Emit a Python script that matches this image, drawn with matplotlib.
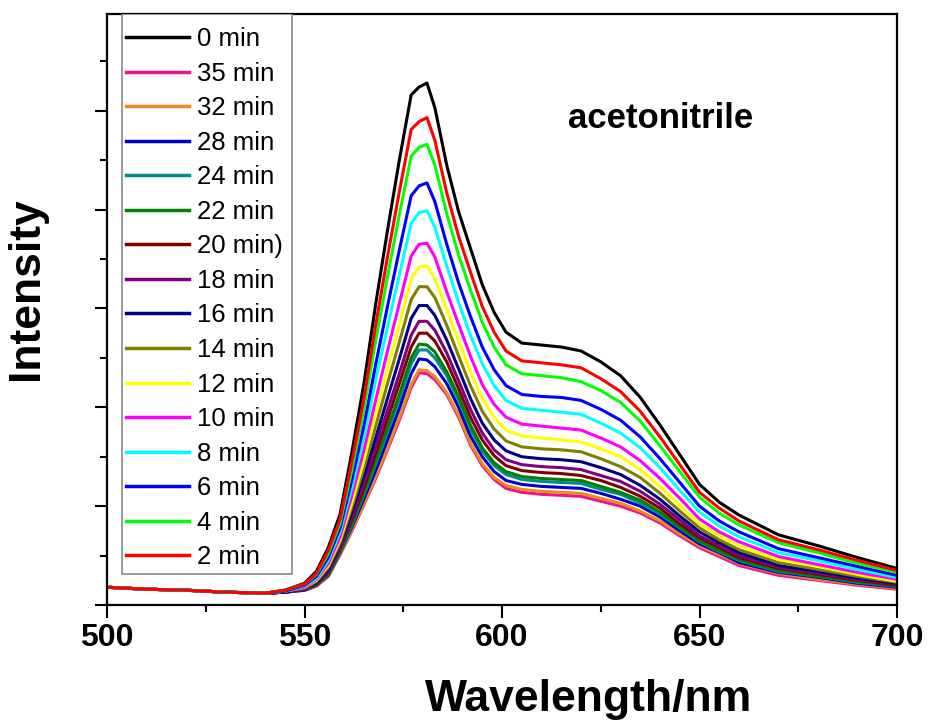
import numpy as np
import matplotlib
matplotlib.use('Agg')
import matplotlib.pyplot as plt
from matplotlib.patches import Rectangle
from matplotlib.ticker import MultipleLocator

plt.rcParams['font.family'] = ['Liberation Sans', 'DejaVu Sans']

# wavelength grid (nm)
wl = [500, 510, 520, 530, 540, 545, 550, 553, 556, 559, 562, 565, 568, 571,
      574, 577, 579, 581, 583, 586, 589, 592, 595, 598, 601, 605, 610, 615,
      620, 625, 630, 635, 640, 645, 650, 655, 660, 670, 680, 690, 700]

base = [18, 16, 15, 13, 12]  # 500-540 nm, all curves overlap

# intensity from 545 nm on (arbitrary units)
i_0 = base + [15, 22, 34, 58, 92, 155, 223, 304, 379, 450, 516, 524, 528, 503, 445, 398,
              361, 324, 296, 276, 265, 263, 261, 257, 246, 232, 210, 182, 152, 122, 104,
              91, 71, 60, 48, 37]
i_35 = base + [13, 15, 19, 29, 51, 75, 101, 128, 157, 187, 220, 235, 234, 228, 213, 190,
               162, 141, 127, 118, 114, 112, 111, 110, 105, 100, 93, 83, 70, 58, 49,
               40, 30, 25, 20, 16]
i_32 = base + [13, 15, 19, 29, 51, 76, 102, 130, 159, 190, 223, 238, 237, 231, 215, 192,
               164, 143, 129, 121, 117, 115, 114, 113, 108, 103, 95, 85, 72, 60, 51,
               42, 32, 26, 21, 17]
i_28 = base + [13, 15, 20, 30, 53, 79, 107, 136, 167, 199, 234, 249, 248, 241, 224, 200,
               171, 150, 135, 126, 122, 120, 119, 118, 113, 107, 100, 89, 75, 62, 53,
               43, 33, 28, 22, 18]
i_24 = base + [13, 16, 20, 31, 54, 81, 111, 142, 175, 208, 244, 258, 258, 250, 232, 207,
               178, 156, 141, 132, 127, 125, 124, 123, 117, 112, 103, 92, 78, 64, 54,
               45, 34, 29, 23, 19]
i_22 = base + [13, 16, 20, 32, 55, 83, 113, 146, 179, 213, 250, 264, 263, 256, 236, 211,
               182, 159, 144, 135, 130, 128, 127, 126, 120, 114, 106, 94, 79, 65, 55,
               46, 35, 29, 24, 19]
i_20 = base + [13, 16, 21, 33, 57, 86, 118, 153, 188, 224, 261, 275, 275, 267, 246, 219,
               190, 167, 151, 141, 136, 134, 133, 131, 126, 119, 110, 98, 82, 68, 58,
               48, 37, 31, 25, 20]
i_18 = base + [13, 16, 22, 34, 58, 89, 123, 160, 197, 234, 273, 287, 287, 278, 255, 227,
               198, 174, 157, 147, 142, 140, 139, 137, 131, 125, 115, 102, 86, 70, 60,
               50, 38, 32, 26, 21]
i_16 = base + [13, 17, 23, 36, 61, 94, 130, 169, 209, 249, 290, 303, 303, 293, 268, 239,
               209, 184, 167, 156, 150, 148, 147, 145, 139, 132, 121, 107, 90, 74, 63,
               53, 40, 34, 27, 22]
i_14 = base + [14, 17, 24, 38, 63, 99, 138, 181, 224, 266, 309, 322, 322, 311, 283, 252,
               222, 196, 178, 166, 160, 158, 157, 155, 148, 140, 129, 113, 95, 78, 66,
               56, 43, 36, 29, 23]
i_12 = base + [14, 18, 25, 40, 66, 104, 146, 193, 239, 284, 330, 342, 343, 330, 299, 267,
               236, 209, 190, 177, 171, 169, 167, 165, 158, 150, 137, 120, 101, 82, 70,
               60, 46, 39, 31, 24]
i_10 = base + [14, 18, 26, 42, 69, 111, 156, 207, 257, 305, 353, 365, 366, 352, 317, 284,
               252, 223, 203, 190, 183, 181, 179, 177, 169, 160, 146, 128, 108, 87, 74,
               64, 49, 41, 33, 26]
i_8 = base + [14, 19, 27, 45, 74, 119, 169, 227, 281, 334, 386, 397, 399, 382, 343, 306,
              273, 244, 222, 207, 199, 197, 195, 193, 184, 174, 159, 139, 116, 94, 80,
              69, 53, 45, 36, 28]
i_6 = base + [14, 20, 29, 48, 78, 127, 181, 243, 302, 359, 414, 424, 427, 408, 365, 326,
              292, 261, 238, 222, 213, 211, 210, 207, 198, 187, 170, 148, 124, 100, 85,
              74, 57, 48, 39, 30]
i_4 = base + [15, 21, 31, 52, 83, 137, 197, 267, 332, 395, 454, 463, 466, 445, 396, 354,
              319, 286, 261, 243, 234, 232, 230, 226, 217, 205, 186, 161, 135, 109, 93,
              81, 63, 53, 42, 33]
i_2 = base + [15, 21, 32, 55, 87, 145, 208, 283, 352, 418, 481, 489, 493, 470, 417, 373,
              337, 302, 276, 257, 247, 245, 243, 240, 229, 216, 196, 170, 142, 114, 98,
              85, 66, 56, 45, 35]

labels = ['0 min', '35 min', '32 min', '28 min', '24 min', '22 min', '20 min)',
          '18 min', '16 min', '14 min', '12 min', '10 min', '8 min', '6 min',
          '4 min', '2 min']
series = [i_0, i_35, i_32, i_28, i_24, i_22, i_20, i_18, i_16, i_14,
          i_12, i_10, i_8, i_6, i_4, i_2]
colors = ['#000000', '#F0128A', '#EE8A1C', '#0000C8', '#008C8C', '#008000',
          '#800000', '#800080', '#000080', '#808000', '#FFFF00', '#FF00FF',
          '#00FFFF', '#0000FF', '#00FF00', '#FF0000']

fig = plt.figure(figsize=(9.29, 7.22), dpi=100)
ax = fig.add_axes([0.1152, 0.162, 0.8504, 0.8188])

for y, c, lab in zip(series, colors, labels):
    ax.plot(wl, y, color=c, lw=2.2, label=lab, solid_joinstyle='round')

ax.set_xlim(500, 700)
ax.set_ylim(0, 598)
ax.xaxis.set_major_locator(MultipleLocator(50))
ax.xaxis.set_minor_locator(MultipleLocator(25))
ax.yaxis.set_major_locator(MultipleLocator(100))
ax.yaxis.set_minor_locator(MultipleLocator(50))
ax.set_yticklabels([])
ax.tick_params(which='major', direction='out', length=9, width=1.5,
               labelsize=23, pad=4)
ax.tick_params(which='minor', direction='out', length=5, width=1.5)
for lab in ax.get_xticklabels():
    lab.set_fontweight('bold')
for s in ax.spines.values():
    s.set_linewidth(1.6)

ax.set_xlabel('Wavelength/nm', fontsize=32, fontweight='bold')
ax.xaxis.set_label_coords(0.609, -0.125)
ax.set_ylabel('Intensity', fontsize=32, fontweight='bold')
ax.yaxis.set_label_coords(-0.076, 0.536)

ax.text(616.7, 483, 'acetonitrile', fontsize=25, fontweight='bold',
        ha='left', va='baseline')

# legend box drawn by hand so the padding matches the original
box = Rectangle((0.019, 0.0525), 0.215, 0.9475, transform=ax.transAxes,
                facecolor='white', edgecolor='#888888', lw=1.2, zorder=4)
ax.add_patch(box)
leg = ax.legend(loc='upper left', bbox_to_anchor=(0.024, 0.9775),
                borderaxespad=0, borderpad=0, fontsize=18.5, frameon=False,
                handlelength=2.45, handletextpad=0.31, labelspacing=0.41)
leg.set_zorder(5)
for h in leg.get_lines():
    h.set_linewidth(2.5)

fig.savefig('out.png', dpi=100)
